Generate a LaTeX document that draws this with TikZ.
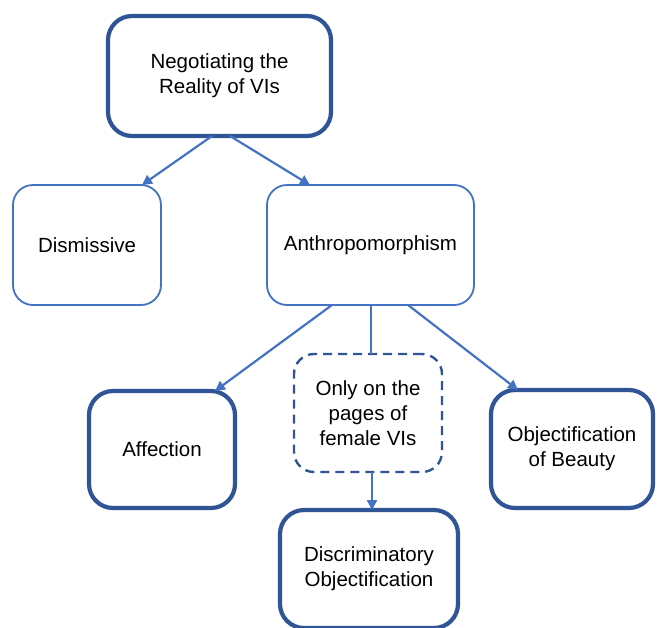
\documentclass[tikz,border=0pt]{standalone}
\usepackage{fontspec}
\setmainfont{Liberation Sans}
\usetikzlibrary{arrows.meta,calc}
\definecolor{darkb}{HTML}{2F5597}
\definecolor{lightb}{HTML}{4472C4}
\begin{document}
\begin{tikzpicture}[x=1pt,y=-1pt,
  every node/.style={font=\fontsize{20.5}{25}\selectfont, align=center, inner sep=0pt, outer sep=0pt},
  thickbox/.style={draw=darkb, line width=4.2pt, rounded corners=24pt, fill=white},
  thinbox/.style={draw=lightb, line width=1.8pt, rounded corners=20pt, fill=white},
  dashbox/.style={draw=darkb, line width=2.4pt, rounded corners=20pt, dash pattern=on 9pt off 6pt, fill=white},
  conn/.style={draw=lightb, line width=2.2pt},
  arr/.style={conn, -{Triangle[length=10pt,width=10pt]}}]
\useasboundingbox (0,0) rectangle (659,627);
\begin{scope}
\clip (0,0) rectangle (659,627);
\node[thickbox, minimum width=223pt, minimum height=120pt] (top) at (219.5,76) {Negotiating the\\Reality of VIs};
\node[thinbox, minimum width=148pt, minimum height=120pt] (dis) at (87,245) {Dismissive};
\node[thinbox, minimum width=207pt, minimum height=120pt] (ant) at (370.5,245) {Anthropomorphism};
\node[thickbox, minimum width=146pt, minimum height=117pt] (aff) at (162,449.5) {Affection};
\node[dashbox, minimum width=148pt, minimum height=118pt] (dsh) at (368,413) {Only on the\\pages of\\female VIs};
\node[thickbox, minimum width=162pt, minimum height=118pt] (obj) at (572,449) {Objectification\\of Beauty};
\node[thickbox, minimum width=178pt, minimum height=118pt] (dsc) at (369,569) {Discriminatory\\Objectification};
\end{scope}
\draw[arr] ([xshift=-7.5pt]top.south) -- ([xshift=55pt]dis.north);
\draw[arr] ([xshift=10.5pt]top.south) -- ([xshift=-60.5pt]ant.north);
\draw[arr] ([xshift=-38.5pt]ant.south) -- ([xshift=53pt]aff.north);
\draw[conn] ([xshift=0.5pt]ant.south) -- ([xshift=0.5pt]ant.south |- dsh.north);
\draw[arr] ([xshift=37.5pt]ant.south) -- ([xshift=-54pt]obj.north);
\draw[arr] ([xshift=4pt]dsh.south) -- ([xshift=4pt]dsh.south |- dsc.north);
\end{tikzpicture}
\end{document}
